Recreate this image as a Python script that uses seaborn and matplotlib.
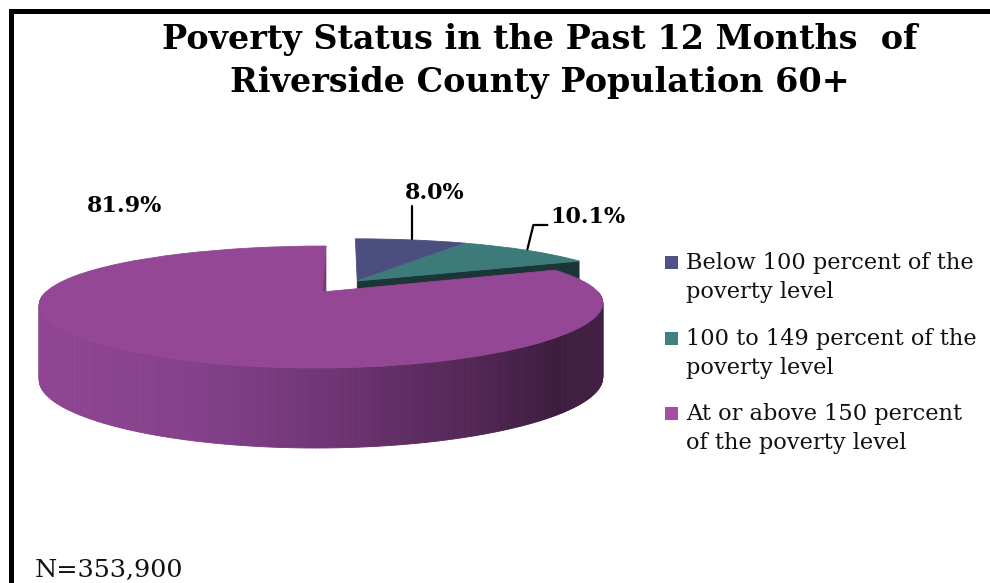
import numpy as np
import matplotlib
matplotlib.use("Agg")
import matplotlib.pyplot as plt
import seaborn as sns
from matplotlib.transforms import Transform
from matplotlib.collections import PolyCollection
from matplotlib.patches import Rectangle, Polygon
from matplotlib.colors import LinearSegmentedColormap

# ---------------- data ----------------
categories = ["Below 100 percent of the\npoverty level",
              "100 to 149 percent of the\npoverty level",
              "At or above 150 percent\nof the poverty level"]
shares = [8.0, 10.1, 81.9]
sample_size = 353900
title_lines = ["Poverty Status in the Past 12 Months  of",
               "Riverside County Population 60+"]

top_colors = ["#4d4e80", "#3d7a7a", "#934794"]
legend_colors = ["#4f5189", "#3f8080", "#a24fa4"]
face_dark = "#1c3536"
cut_purple = "#77397a"

sns.set_theme(style="white")
plt.rcParams["font.family"] = ["DejaVu Serif"]

W, H = 990, 583
fig = plt.figure(figsize=(W / 100, H / 100), dpi=100)
ax = fig.add_axes([0, 0, 1, 1])


class Perspective(Transform):
    """Projects the flat pie plane into a tilted, perspective view (pixel coords)."""
    input_dims = 2
    output_dims = 2
    is_separable = False
    has_inverse = False

    def __init__(self, xv, xc, y0, sx, sy, kx, ky):
        super().__init__()
        self.xv, self.xc, self.y0 = xv, xc, y0
        self.sx, self.sy, self.kx, self.ky = sx, sy, kx, ky

    def transform_non_affine(self, values):
        v = np.asarray(values, float).reshape(-1, 2)
        X, Y = v[:, 0], v[:, 1]
        px = self.xv + self.sx * (X - self.xc) / (1 + self.kx * Y)
        py = self.y0 - self.sy * Y / (1 + self.ky * Y)
        return np.column_stack([px, py])


persp = Perspective(346, 0.087, 292, 276, 57.3, 0.20, 0.246)

wedges, _ = ax.pie(shares, colors=top_colors, startangle=90, counterclock=False,
                   wedgeprops=dict(linewidth=0.6))
ax.set_aspect("auto")
ax.set_xlim(0, W)
ax.set_ylim(H, 0)
ax.axis("off")

# pull the two small slices out together along their joint mid-angle
small = shares[0] + shares[1]
mid = np.deg2rad(90 - small * 3.6 / 2)
off = 0.24 * np.array([np.cos(mid), np.sin(mid)])
for w in wedges[:2]:
    w.set_center(tuple(off))
for w, c in zip(wedges, top_colors):
    w.set_transform(persp + ax.transData)
    w.set_edgecolor(c)
wedges[0].set_zorder(2)
wedges[1].set_zorder(2)
wedges[2].set_zorder(4)


def to_px(X, Y):
    return persp.transform(np.column_stack([np.atleast_1d(X), np.atleast_1d(Y)]))


def depth(Y):
    return 73.3 - 6.7 * np.asarray(Y)


def cut_face(wedge, angle, color, z):
    th = np.deg2rad(angle)
    cx, cy = wedge.center
    gX = np.array([cx, cx + np.cos(th)])
    gY = np.array([cy, cy + np.sin(th)])
    tp = to_px(gX, gY)
    bp = tp.copy()
    bp[:, 1] += depth(gY)
    ax.add_patch(Polygon([tp[0], tp[1], bp[1], bp[0]], closed=True,
                         facecolor=color, edgecolor=color, lw=0.5, zorder=z))


# cut face of the teal slice and of the big slice at the notch
cut_face(wedges[1], wedges[1].theta1, face_dark, 1)
cut_face(wedges[2], wedges[2].theta1 + 360, cut_purple, 3.5)

# front wall of the big slice with shading
cx, cy = wedges[2].center
ths = np.linspace(-np.pi, 0, 301)
gX = cx + np.cos(ths)
gY = cy + np.sin(ths)
top = to_px(gX, gY)
bot = top.copy()
bot[:, 1] += depth(gY)
polys = [[top[i], top[i + 1], bot[i + 1], bot[i]] for i in range(len(ths) - 1)]
xs = (top[:-1, 0] + top[1:, 0]) / 2
f = (xs - xs.min()) / (xs.max() - xs.min())
cmap = LinearSegmentedColormap.from_list(
    "wall", [(0, "#904592"), (0.3, "#83408a"), (0.55, "#6c3370"),
             (0.8, "#4f2552"), (0.92, "#3c1c3e"), (1.0, "#432145")])
cols = cmap(f)
ax.add_collection(PolyCollection(polys, facecolors=cols, edgecolors=cols,
                                 linewidths=0.6, zorder=3))

# percentage labels with leader lines
pct = [f"{v:.1f}%" for v in shares]
lab_kw = dict(fontsize=16, fontweight="bold", color="black", va="baseline")
ax.text(435, 199, pct[0], ha="center", **lab_kw)
ax.text(588, 223, pct[1], ha="center", **lab_kw)
ax.text(124, 212, pct[2], ha="center", **lab_kw)

for i in range(2):
    w = wedges[i]
    m = np.deg2rad((w.theta1 + w.theta2) / 2)
    p = to_px(w.center[0] + np.cos(m), w.center[1] + np.sin(m))[0]
    if i == 0:
        ax.plot([412, 412], [p[1] - 1, 206], color="black", lw=1.6, zorder=6)
    else:
        ax.plot([p[0], p[0] + 6, p[0] + 20], [p[1] - 1, 225, 225],
                color="black", lw=1.6, zorder=6)

# title
for txt, yb in zip(title_lines, [49, 92]):
    ax.text(540, yb, txt, ha="center", va="baseline", fontsize=24,
            fontweight="bold", color="black")

# legend
base_y = [269, 345, 420]
for lab, col, by in zip(categories, legend_colors, base_y):
    ax.add_patch(Rectangle((665, by - 13), 13, 13, facecolor=col, edgecolor="none"))
    for j, line in enumerate(lab.split("\n")):
        ax.text(686, by + 29 * j, line, ha="left", va="baseline", fontsize=16.2,
                color="#111111")

ax.text(35, 577, f"N={sample_size:,}", ha="left", va="baseline", fontsize=18.3,
        color="#111111")

# frame
ax.plot([10.5, 10.5, W + 5], [H + 5, 10.5, 10.5], color="black", lw=3.6,
        solid_joinstyle="miter", clip_on=False, zorder=10)

fig.savefig("out.png", dpi=100)
